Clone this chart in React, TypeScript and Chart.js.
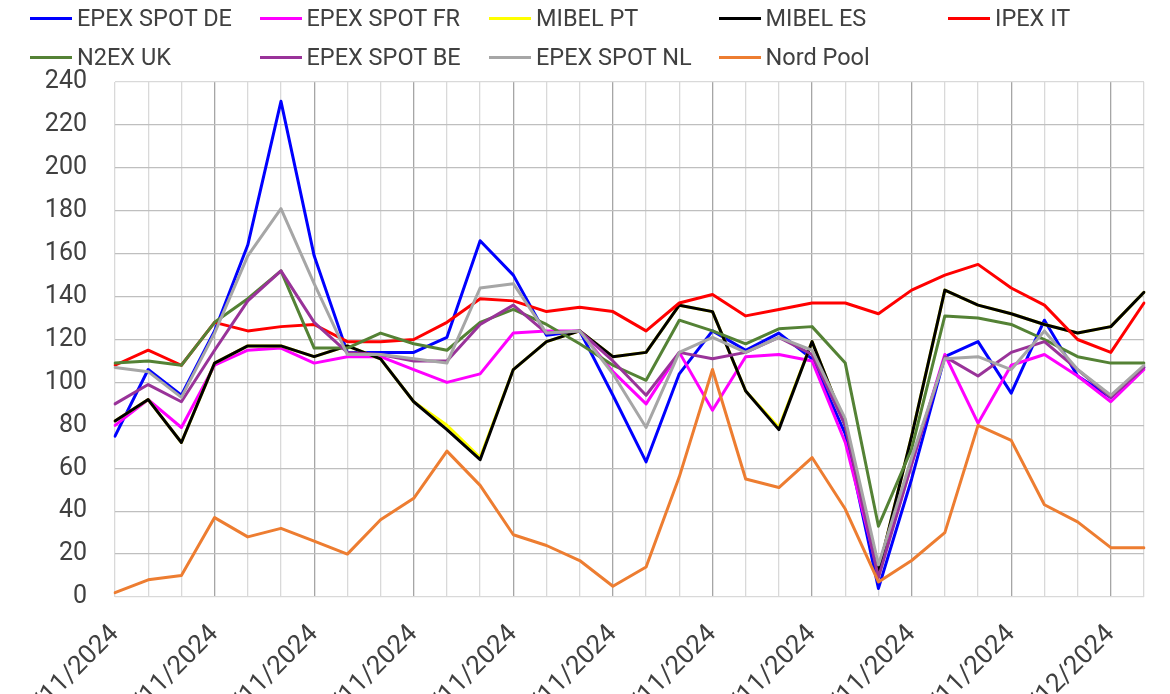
import React, { useEffect, useRef } from 'react';
import { Chart, registerables } from 'chart.js';
Chart.register(...registerables);

const dates = [
  '01/11/2024', '02/11/2024', '03/11/2024', '04/11/2024', '05/11/2024', '06/11/2024', '07/11/2024', '08/11/2024',
  '09/11/2024', '10/11/2024', '11/11/2024', '12/11/2024', '13/11/2024', '14/11/2024', '15/11/2024', '16/11/2024',
  '17/11/2024', '18/11/2024', '19/11/2024', '20/11/2024', '21/11/2024', '22/11/2024', '23/11/2024', '24/11/2024',
  '25/11/2024', '26/11/2024', '27/11/2024', '28/11/2024', '29/11/2024', '30/11/2024', '01/12/2024', '02/12/2024',
];

const epexDE = [75, 106, 94, 124, 164, 231, 159, 114, 114, 114, 121, 166, 150, 122, 124, 94, 63, 104, 124, 115, 123, 111, 76, 4, 55, 112, 119, 95, 129, 103, 93, 107];
const epexFR = [80, 92, 79, 108, 115, 116, 109, 112, 112, 106, 100, 104, 123, 124, 124, 105, 90, 114, 87, 112, 113, 110, 72, 11, 62, 113, 81, 108, 113, 103, 91, 106];
const mibelPT = [82, 92, 72, 109, 117, 117, 112, 117, 111, 91, 80, 65, 106, 119, 124, 112, 114, 136, 133, 96, 79, 119, 80, 12, 75, 143, 136, 132, 127, 123, 126, 142];
const mibelES = [82, 92, 72, 109, 117, 117, 112, 117, 111, 91, 78, 64, 106, 119, 124, 112, 114, 136, 133, 96, 78, 119, 80, 12, 75, 143, 136, 132, 127, 123, 126, 142];
const ipexIT = [108, 115, 108, 128, 124, 126, 127, 119, 119, 120, 128, 139, 138, 133, 135, 133, 124, 137, 141, 131, 134, 137, 137, 132, 143, 150, 155, 144, 136, 120, 114, 137];
const n2exUK = [109, 110, 108, 128, 139, 152, 116, 116, 123, 118, 115, 128, 134, 127, 118, 108, 101, 129, 124, 118, 125, 126, 109, 33, 69, 131, 130, 127, 120, 112, 109, 109];
const epexBE = [90, 99, 91, 115, 138, 152, 128, 114, 113, 110, 110, 127, 136, 123, 124, 110, 94, 114, 111, 114, 121, 113, 80, 9, 62, 112, 103, 114, 119, 106, 93, 107];
const epexNL = [107, 105, 93, 123, 159, 181, 146, 113, 113, 111, 109, 144, 146, 123, 124, 104, 79, 114, 121, 114, 121, 115, 83, 15, 65, 111, 112, 106, 124, 106, 94, 108];
const nordPool = [2, 8, 10, 37, 28, 32, 26, 20, 36, 46, 68, 52, 29, 24, 17, 5, 14, 56, 106, 55, 51, 65, 41, 7, 17, 30, 80, 73, 43, 35, 23, 23];

const seriesNames = ['EPEX SPOT DE', 'EPEX SPOT FR', 'MIBEL PT', 'MIBEL ES', 'IPEX IT', 'N2EX UK', 'EPEX SPOT BE', 'EPEX SPOT NL', 'Nord Pool'];
const seriesData = [epexDE, epexFR, mibelPT, mibelES, ipexIT, n2exUK, epexBE, epexNL, nordPool];
const seriesColors = ['#0000FF', '#FF00FF', '#FFFF00', '#000000', '#FF0000', '#548235', '#993399', '#A6A6A6', '#ED7D31'];

const yTicks = [0, 20, 40, 60, 80, 100, 120, 140, 160, 180, 200, 220, 240];

const FONT = "Roboto, 'Liberation Sans', sans-serif";
const TEXT = '#404040';

export default function App() {
  const ref = useRef<HTMLCanvasElement | null>(null);

  useEffect(() => {
    if (!ref.current) return;
    const chart = new Chart(ref.current, {
      type: 'line',
      data: {
        labels: dates,
        datasets: seriesNames.map((name, i) => ({
          label: name,
          data: seriesData[i],
          borderColor: seriesColors[i],
          backgroundColor: seriesColors[i],
          borderWidth: 3,
          pointRadius: 0,
          tension: 0,
          borderJoinStyle: 'round' as const,
          borderCapStyle: 'round' as const,
          order: seriesNames.length - i,
        })),
      },
      options: {
        responsive: false,
        animation: false,
        devicePixelRatio: 1,
        layout: { padding: { top: 82, right: 26, left: 0, bottom: 0 } },
        plugins: {
          legend: { display: false },
          tooltip: { enabled: false },
        },
        scales: {
          x: {
            offset: false,
            border: { display: false },
            grid: {
              drawTicks: false,
              lineWidth: 1.3,
              color: (ctx: any) => (ctx.index % 3 === 0 && ctx.index !== 0 ? '#A6A6A6' : '#D9D9D9'),
            },
            ticks: {
              autoSkip: false,
              minRotation: 45,
              maxRotation: 45,
              padding: 22,
              color: TEXT,
              font: { family: FONT, size: 26 },
              callback: (_v: any, idx: number) => (idx % 3 === 0 ? dates[idx] : ''),
            },
            afterFit: (scale: any) => {
              scale.height = 163;
              scale.paddingLeft = 0;
              scale.paddingRight = 0;
            },
          },
          y: {
            min: 0,
            max: 240,
            border: { display: false },
            afterBuildTicks: (scale: any) => { scale.ticks = yTicks.map((v) => ({ value: v })); },
            grid: {
              drawTicks: false,
              lineWidth: 1.3,
              color: (ctx: any) => (ctx.tick && (ctx.tick.value === 0 || ctx.tick.value === 240) ? '#D9D9D9' : '#BFBFBF'),
            },
            ticks: {
              padding: 28,
              color: TEXT,
              font: { family: FONT, size: 25 },
            },
            afterFit: (scale: any) => {
              scale.width = 115;
              scale.paddingTop = 0;
              scale.paddingBottom = 0;
            },
          },
        },
      },
    });
    return () => chart.destroy();
  }, []);

  const colLeft = (c: number) => 30 + c * 229.5;

  return (
    <div style={{ position: 'absolute', left: 0, top: 0, width: 1170, height: 760, background: '#fff' }}>
      <canvas ref={ref} width={1170} height={760} style={{ position: 'absolute', left: 0, top: 0 }} />
      {seriesNames.map((name, i) => {
        const row = i < 5 ? 0 : 1;
        const col = i < 5 ? i : i - 5;
        return (
          <div
            key={name}
            style={{
              position: 'absolute',
              left: colLeft(col),
              top: row === 0 ? 3 : 42,
              height: 30,
              display: 'flex',
              alignItems: 'center',
              fontFamily: FONT,
              fontSize: 23.5,
              color: TEXT,
              whiteSpace: 'nowrap',
            }}
          >
            <span style={{ display: 'inline-block', width: 42, height: 3, background: seriesColors[i], marginRight: 5 }} />
            <span>{name}</span>
          </div>
        );
      })}
    </div>
  );
}
